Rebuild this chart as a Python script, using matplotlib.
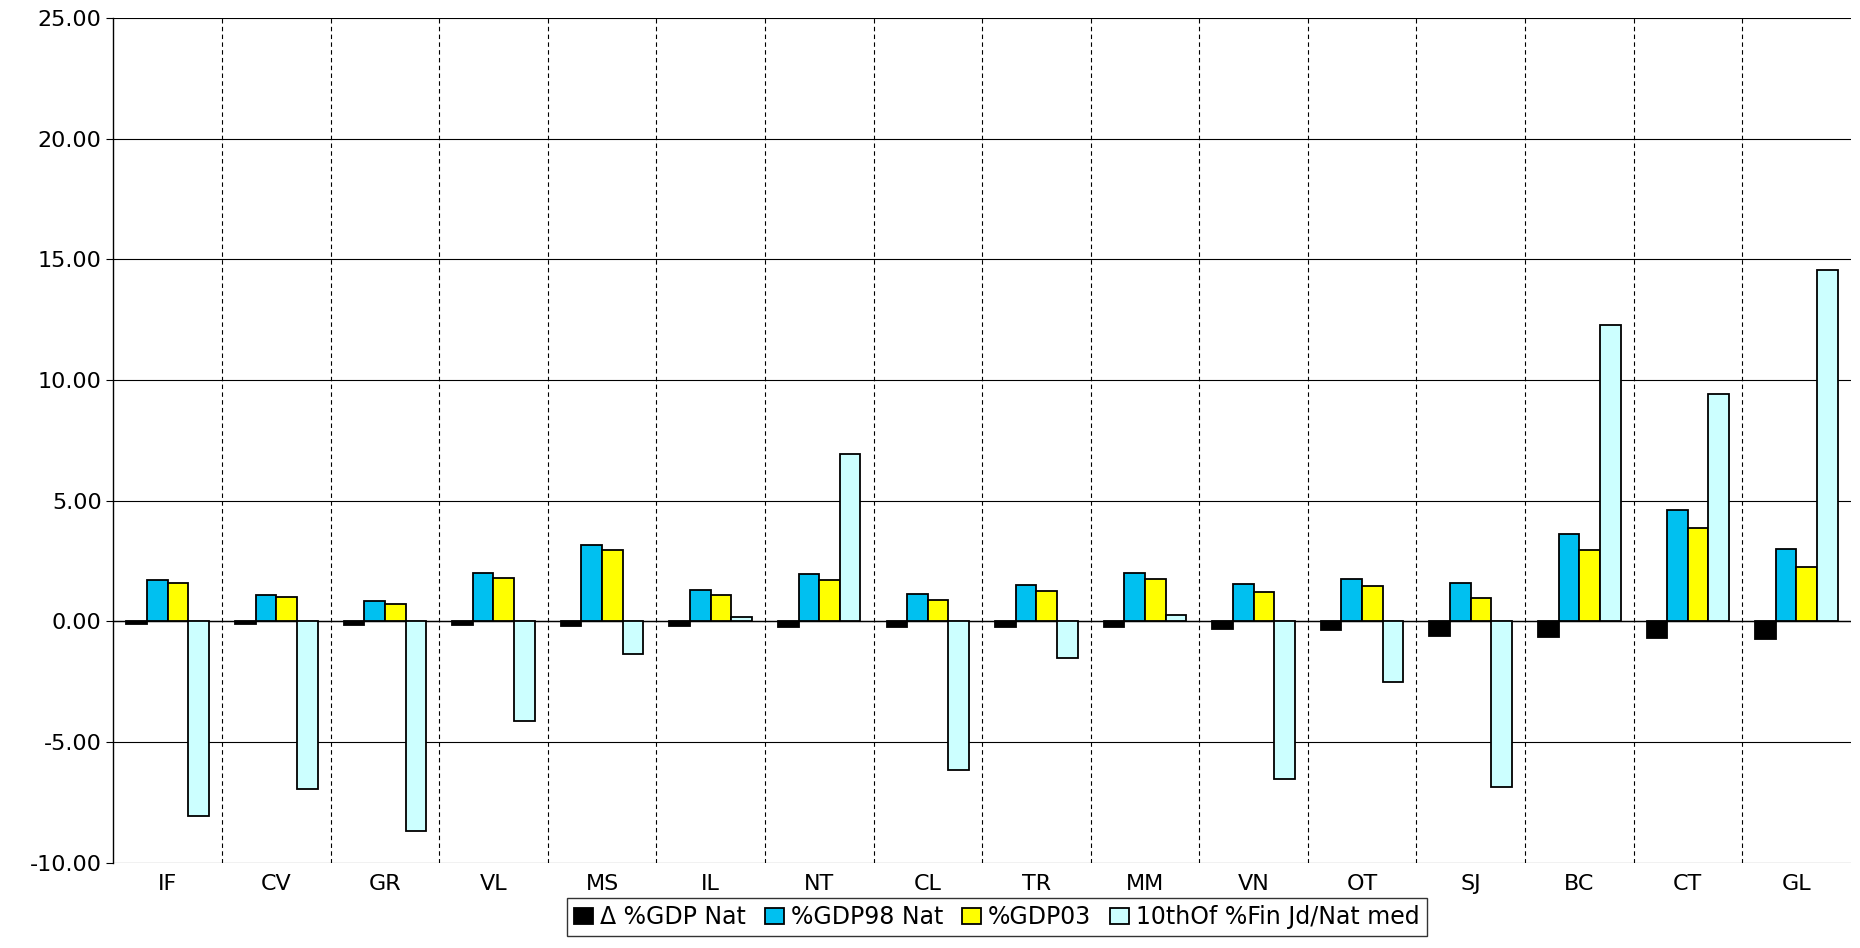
import matplotlib
matplotlib.use("Agg")
import matplotlib.pyplot as plt
import numpy as np

cats = ["IF","CV","GR","VL","MS","IL","NT","CL","TR","MM","VN","OT","SJ","BC","CT","GL"]
d_gdp = [-0.1,-0.1,-0.15,-0.15,-0.2,-0.2,-0.25,-0.25,-0.25,-0.25,-0.3,-0.35,-0.6,-0.65,-0.7,-0.75]
gdp98 = [1.7,1.1,0.85,2.0,3.15,1.3,1.95,1.15,1.5,2.0,1.55,1.75,1.6,3.6,4.6,3.0]
gdp03 = [1.6,1.0,0.7,1.8,2.95,1.1,1.7,0.9,1.25,1.75,1.2,1.45,0.95,2.95,3.85,2.25]
fin10 = [-8.05,-6.95,-8.7,-4.15,-1.35,0.2,6.95,-6.15,-1.5,0.25,-6.55,-2.5,-6.85,12.3,9.4,14.55]
labels = ["Δ %GDP Nat","%GDP98 Nat","%GDP03","10thOf %Fin Jd/Nat med"]
colors = ["#000000","#00c0f0","#ffff00","#ccffff"]

fig = plt.figure(figsize=(18.6,9.48), dpi=100)
ax = fig.add_axes([0.061,0.09,0.934,0.891])
x = np.arange(len(cats))
w = 0.19
for i,(vals,c,l) in enumerate(zip([d_gdp,gdp98,gdp03,fin10],colors,labels)):
    ax.bar(x+(i-1.5)*w, vals, w, color=c, edgecolor="black", linewidth=1.3, label=l, zorder=3)
ax.set_xlim(-0.5,len(cats)-0.5)
ax.set_ylim(-10,25)
ax.set_yticks(np.arange(-10,26,5))
ax.set_yticklabels([f"{v:.2f}" for v in np.arange(-10,26,5)], fontsize=16)
ax.set_xticks(x)
ax.set_xticklabels(cats, fontsize=16)
ax.tick_params(axis='x', length=0, pad=8)
ax.tick_params(axis='y', length=5, direction='out')
ax.yaxis.grid(True, color="black", linewidth=0.8, zorder=0)
for b in np.arange(0.5,len(cats)-0.5,1):
    ax.axvline(b, color="black", linestyle=(0,(4,3)), linewidth=0.8, zorder=0)
ax.axhline(0, color="black", linewidth=1, zorder=2)
for s in ["top","right","bottom"]:
    ax.spines[s].set_visible(False)
ax.spines["left"].set_linewidth(1)
leg = fig.legend(loc="lower center", ncol=4, prop={"size":17}, frameon=True, fancybox=False,
                 edgecolor="black", handlelength=0.8, handletextpad=0.3, columnspacing=0.8,
                 borderpad=0.3, bbox_to_anchor=(0.536,0.0))
fig.savefig("out.png")
